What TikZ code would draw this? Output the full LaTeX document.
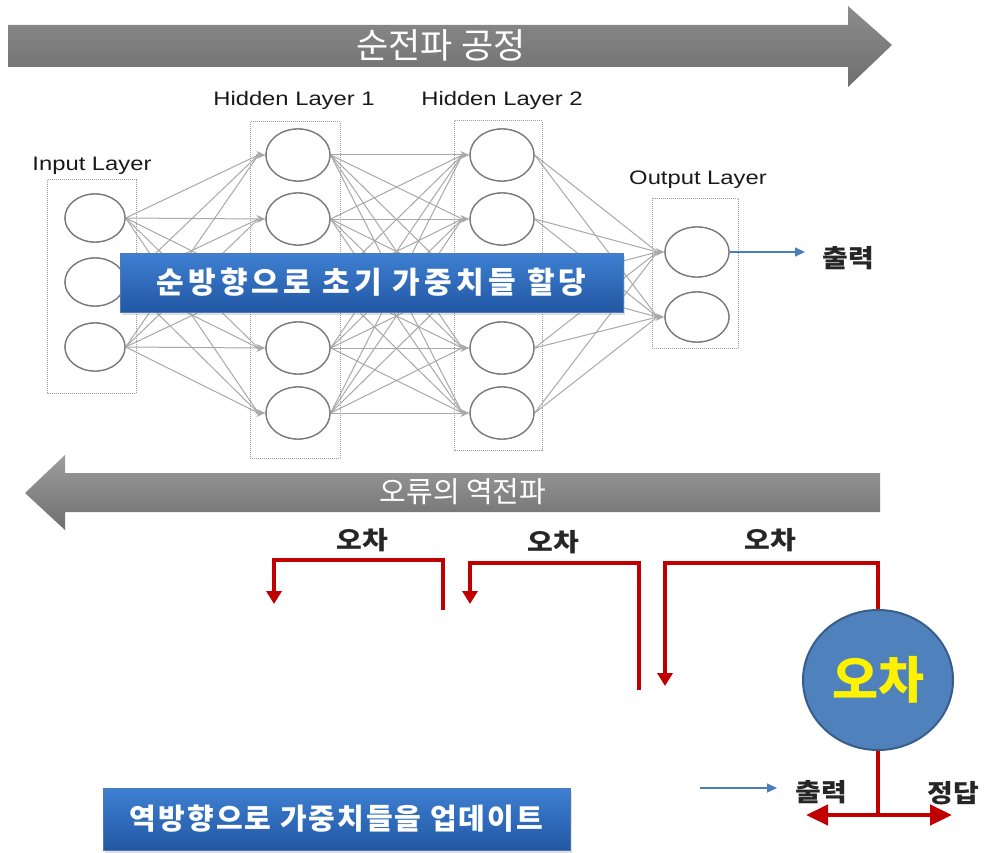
\documentclass[tikz,border=0pt]{standalone}
\usepackage{fontspec}
\setmainfont{Liberation Sans}[FakeStretch=1.22]
\newfontfamily\kr{Noto Sans CJK KR}
\usetikzlibrary{arrows.meta,shadows,shapes.geometric}
\definecolor{edgegray}{HTML}{A8A8A8}
\definecolor{ringgray}{HTML}{7A7A7A}
\definecolor{boxgray}{HTML}{9A9A9A}
\definecolor{errred}{HTML}{C00000}
\definecolor{bluetop}{HTML}{3F80D2}
\definecolor{bluebot}{HTML}{2157A3}
\definecolor{errfill}{HTML}{4F81BD}
\definecolor{errdraw}{HTML}{385D8A}
\definecolor{thinblue}{HTML}{4A7EBB}
\definecolor{arrowtop}{HTML}{8C8C8C}
\definecolor{arrowbot}{HTML}{6E6E6E}
\tikzset{
  x=1pt, y=-1pt,
  neuron/.style={ellipse, draw=ringgray, line width=1.3pt, fill=white, inner sep=0pt},
  layerbox/.style={draw=boxgray, densely dotted, line width=1pt},
  layerlabel/.style={font=\fontsize{19.5}{19.5}\selectfont, text=black!90},
  edge/.style={draw=edgegray, line width=1pt},
  tipstub/.style={draw=edgegray, line width=1pt, -{Stealth[length=9pt,width=8pt]}},
  bluebox/.style={rectangle, top color=bluetop, bottom color=bluebot, draw=bluebot!80!white, line width=0.6pt,
     text=white, drop shadow={opacity=0.25, shadow xshift=2pt, shadow yshift=-3pt}},
  redline/.style={draw=errred, line width=4pt},
  redtip/.style={-{Triangle[width=15pt,length=13pt]}},
  errlabel/.style={font=\kr\bfseries\fontsize{25}{25}\selectfont\addfontfeature{FakeStretch=1.12}, text=black!85},
  thinarrow/.style={draw=thinblue, line width=1.3pt, -{Triangle[width=9pt,length=10pt]}},
}
\begin{document}
\begin{tikzpicture}
\useasboundingbox (0,0) rectangle (987,853);

% top arrow
\shade[top color=arrowtop, bottom color=arrowbot]
  (8,25) -- (848,25) -- (848,6) -- (892,45) -- (848,87) -- (848,67) -- (8,67) -- cycle;
\node[text=white, font=\kr\fontsize{35}{35}\selectfont] (fwd) at (441,45) {순전파 공정};

% bottom arrow
\shade[top color=arrowtop!85!white, bottom color=arrowbot]
  (880,473) -- (65,473) -- (65,455) -- (25,493) -- (65,530) -- (65,512) -- (880,512) -- cycle;
\node[text=white, font=\kr\fontsize{29}{29}\selectfont] (bwd) at (463,492) {오류의 역전파};

% layer boxes
\draw[layerbox] (47,180) rectangle (136,393);
\draw[layerbox] (250,122) rectangle (340,458);
\draw[layerbox] (454,121) rectangle (542,450);
\draw[layerbox] (652,198) rectangle (738,348);

% labels
\node[layerlabel] (lin) at (92,166) {Input Layer};
\node[layerlabel] (lh1) at (294,100) {Hidden Layer 1};
\node[layerlabel] (lh2) at (502,100) {Hidden Layer 2};
\node[layerlabel] (lout) at (698,180) {Output Layer};

% neurons
\foreach \n/\y in {1/218,2/282,3/347}
  \node[neuron, minimum width=60pt, minimum height=48pt] (i\n) at (95,\y) {};
\foreach \n/\y in {1/155,2/219,3/284,4/348,5/413}{
  \node[neuron, minimum width=64pt, minimum height=52pt] (a\n) at (298,\y) {};
  \node[neuron, minimum width=64pt, minimum height=52pt] (b\n) at (502,\y) {};
}
\foreach \n/\y in {1/252,2/317}
  \node[neuron, minimum width=64pt, minimum height=50pt] (o\n) at (697,\y) {};

% edges
\foreach \s in {1,2,3}
  \foreach \t in {1,...,5}
    \draw[edge] (i\s.east) -- ([xshift=-7pt]a\t.west);
\foreach \s in {1,...,5}
  \foreach \t in {1,...,5}
    \draw[edge] (a\s.east) -- ([xshift=-7pt]b\t.west);
\foreach \s in {1,...,5}
  \foreach \t in {1,2}
    \draw[edge] (b\s.east) -- ([xshift=-7pt]o\t.west);
\foreach \t in {1,...,5}{
  \draw[tipstub] ([xshift=-9pt]a\t.west) -- (a\t.west);
  \draw[tipstub] ([xshift=-9pt]b\t.west) -- (b\t.west);
}
\foreach \t in {1,2}
  \draw[tipstub] ([xshift=-9pt]o\t.west) -- (o\t.west);

% redraw neurons on top of edges
\foreach \n in {1,2,3}
  \node[neuron, minimum width=60pt, minimum height=48pt] at (i\n) {};
\foreach \n in {1,...,5}{
  \node[neuron, minimum width=64pt, minimum height=52pt] at (a\n) {};
  \node[neuron, minimum width=64pt, minimum height=52pt] at (b\n) {};
}
\foreach \n in {1,2}
  \node[neuron, minimum width=64pt, minimum height=50pt] at (o\n) {};

% forward blue box
\node[bluebox, minimum width=503pt, minimum height=59pt,
      font=\kr\bfseries\fontsize{30}{30}\selectfont\addfontfeature{LetterSpace=14}] (fbox) at (371.5,282.5)
  {순방향으로 초기 가중치들 할당};

% output arrow
\node[font=\kr\bfseries\fontsize{25}{25}\selectfont\addfontfeature{FakeStretch=1.12}, text=black!85] (out1) at (848,258) {출력};
\coordinate (o1end) at (805,252);
\draw[thinarrow] (o1.east) -- (o1end);

% error circle
\node[ellipse, fill=errfill, draw=errdraw, line width=2pt, minimum width=150pt, minimum height=140pt,
      text=yellow, font=\kr\bfseries\fontsize{50}{50}\selectfont] (err) at (878,680) {오차};

% red connectors
\coordinate (c1s) at (443,610); \coordinate (c1a) at (443,560);
\coordinate (c1b) at (274,560); \coordinate (c1e) at (274,604);
\draw[redline, redtip] (c1s) -- (c1a) -- (c1b) -- (c1e);
\node[errlabel] (l1) at (362,540) {오차};

\coordinate (c2s) at (639,690); \coordinate (c2a) at (639,563);
\coordinate (c2b) at (470,563); \coordinate (c2e) at (470,604);
\draw[redline, redtip] (c2s) -- (c2a) -- (c2b) -- (c2e);
\node[errlabel] (l2) at (553,542) {오차};

\coordinate (c3a) at (878,563);
\coordinate (c3b) at (665,563); \coordinate (c3e) at (665,686);
\draw[redline, redtip] (err.north) -- (c3a) -- (c3b) -- (c3e);
\node[errlabel] (l3) at (770,540) {오차};

% bottom of error circle
\coordinate (j) at (878,815);
\coordinate (jl) at (806,815);
\coordinate (jr) at (952,815);
\draw[redline, line width=4.5pt] (err.south) -- (j);
\draw[redline, line width=4.5pt, {Triangle[width=20pt,length=22pt]}-{Triangle[width=20pt,length=22pt]}] (jl) -- (jr);
\node[errlabel] (out2) at (821,792) {출력};
\node[errlabel] (ans) at (953,793) {정답};
\coordinate (b2s) at (700,788); \coordinate (b2e) at (777,788);
\draw[thinarrow] (b2s) -- (b2e);

% backward blue box
\node[bluebox, minimum width=467pt, minimum height=62pt,
      font=\kr\bfseries\fontsize{29}{29}\selectfont\addfontfeature{LetterSpace=7}] (bbox) at (336.5,819)
  {역방향으로 가중치들을 업데이트};
\end{tikzpicture}
\end{document}
